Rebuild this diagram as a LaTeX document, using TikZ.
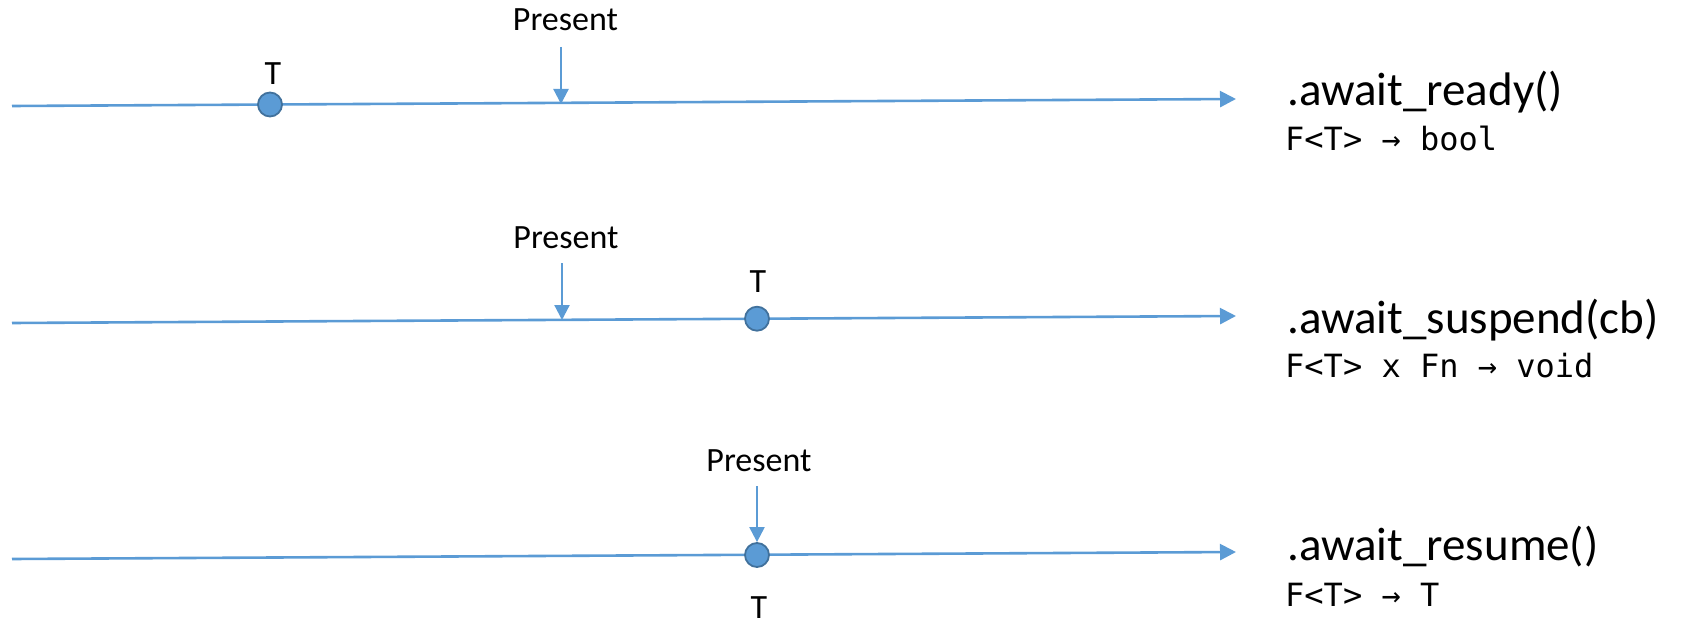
\documentclass[tikz,border=0pt]{standalone}
\usepackage{fontspec}
\setmainfont{Carlito}
\newfontfamily\codefont{DejaVu Sans Mono}
\usetikzlibrary{arrows.meta}
\definecolor{lineblue}{HTML}{5B9BD5}
\definecolor{rimblue}{HTML}{41719C}
\tikzset{
  timeline/.style={draw=lineblue, line width=2.6pt, -{Triangle[length=16pt,width=16pt]}},
  nowarrow/.style={draw=lineblue, line width=2.2pt, -{Triangle[length=15pt,width=15pt]}},
  event/.style={circle, fill=lineblue, draw=rimblue, line width=1.8pt, minimum size=24pt, inner sep=0pt},
  lbl/.style={inner sep=0pt, font=\fontsize{34}{38}\selectfont},
  method/.style={inner sep=0pt, anchor=base west, font=\fontsize{47}{52}\selectfont},
  sig/.style={inner sep=0pt, anchor=base west, font=\codefont\fontsize{32}{36}\selectfont}
}
\begin{document}
\begin{tikzpicture}[x=1pt,y=-1pt]
\useasboundingbox (0,0) rectangle (1682,623);

% --- await_ready: value already available before the present
\coordinate (s1) at (12,106);
\coordinate (e1) at (1236,99);
\draw[timeline] (s1) -- (e1);
\node[event] (c1) at (270,104.5) {};
\node[lbl, anchor=base] (t1) at (273,85) {T};
\node[lbl, anchor=base] (p1) at (565.5,31) {Present};
\coordinate (p1a) at (561,47);
\coordinate (p1b) at (561,104);
\draw[nowarrow] (p1a) -- (p1b);
\node[method] (m1) at (1287,106) {.await\_ready()};
\node[sig] (g1) at (1285,150) {F<T> → bool};

% --- await_suspend: value arrives after the present
\coordinate (s2) at (12,323);
\coordinate (e2) at (1236,316);
\draw[timeline] (s2) -- (e2);
\node[event] (c2) at (757,318.7) {};
\node[lbl, anchor=base] (t2) at (758,292) {T};
\node[lbl, anchor=base] (p2) at (566,248) {Present};
\coordinate (p2a) at (562,263);
\coordinate (p2b) at (562,320);
\draw[nowarrow] (p2a) -- (p2b);
\node[method] (m2) at (1287,333) {.await\_suspend(cb)};
\node[sig] (g2) at (1285,377) {F<T> x Fn → void};

% --- await_resume: value taken at the present
\coordinate (s3) at (12,559);
\coordinate (e3) at (1236,552);
\draw[timeline] (s3) -- (e3);
\node[event] (c3) at (757,555) {};
\node[lbl, anchor=base] (t3) at (759,618) {T};
\node[lbl, anchor=base] (p3) at (759,471) {Present};
\coordinate (p3a) at (757,486);
\draw[nowarrow] (p3a) -- (c3.north);
\node[method] (m3) at (1287,560) {.await\_resume()};
\node[sig] (g3) at (1285,606) {F<T> → T};
\end{tikzpicture}
\end{document}
